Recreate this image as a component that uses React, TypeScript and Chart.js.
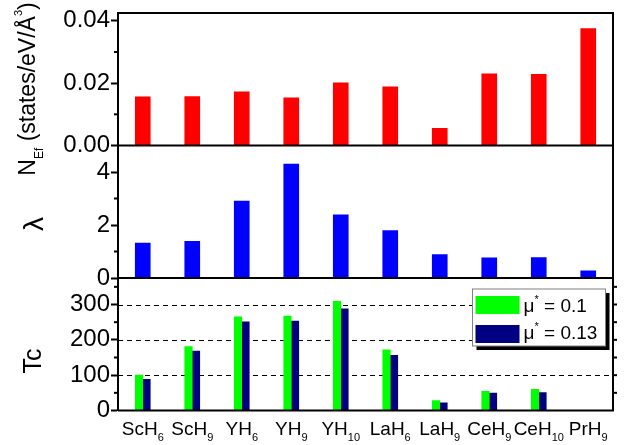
import React, { useEffect, useRef } from 'react';
import { Chart, registerables } from 'chart.js';

Chart.register(...registerables);

// Compounds along the x axis; trailing digits are drawn as a subscript
const compounds = ['ScH6', 'ScH9', 'YH6', 'YH9', 'YH10', 'LaH6', 'LaH9', 'CeH9', 'CeH10', 'PrH9'];

// Density of states at the Fermi level (states/eV/Å³)
const nEf = [0.0156, 0.0157, 0.0172, 0.0153, 0.0201, 0.0188, 0.0055, 0.023, 0.0228, 0.0375];

// Electron-phonon coupling constant
const lambda = [1.32, 1.38, 2.9, 4.3, 2.38, 1.79, 0.88, 0.76, 0.77, 0.27];

// Critical temperature for two Coulomb pseudopotentials
const tcMu010 = [100, 181, 265, 267, 309, 172, 28, 54, 60, null];
const tcMu013 = [88, 168, 251, 253, 288, 156, 22, 49, 51, null];
const muStar = ['0.1', '0.13'];

// Axis ticks
const nEfTicks = [0, 0.02, 0.04];
const nEfMinor = [0.01, 0.03];
const lambdaTicks = [0, 2, 4];
const lambdaMinor = [1, 3];
const tcTicks = [0, 100, 200, 300];
const tcMinor = [50, 150, 250, 350];
const tcGuides = [100, 200, 300];
const tcRightTicks = [50, 100, 150, 200, 250, 300, 350];

const FONT = '"Liberation Sans", Arial, Helvetica, sans-serif';

type Part = { text: string; size: number; dy?: number };

function partsWidth(ctx: CanvasRenderingContext2D, parts: Part[]) {
  let w = 0;
  for (const p of parts) {
    ctx.font = `${p.size}px ${FONT}`;
    w += ctx.measureText(p.text).width;
  }
  return w;
}

function drawParts(ctx: CanvasRenderingContext2D, parts: Part[], x0: number, baseY: number) {
  let x = x0;
  for (const p of parts) {
    ctx.font = `${p.size}px ${FONT}`;
    ctx.fillText(p.text, x, baseY + (p.dy || 0));
    x += ctx.measureText(p.text).width;
  }
  return x;
}

function drawVertical(ctx: CanvasRenderingContext2D, parts: Part[], baseX: number, centerY: number) {
  ctx.save();
  ctx.translate(baseX, centerY);
  ctx.rotate(-Math.PI / 2);
  const w = partsWidth(ctx, parts);
  drawParts(ctx, parts, -w / 2, 0);
  ctx.restore();
}

function hLine(ctx: CanvasRenderingContext2D, x1: number, x2: number, y: number) {
  ctx.beginPath();
  ctx.moveTo(x1, y);
  ctx.lineTo(x2, y);
  ctx.stroke();
}

const panelDecorations = {
  id: 'panelDecorations',
  beforeDatasetsDraw(chart: any) {
    const { ctx, chartArea: a, scales } = chart;
    const yT = scales.yT;
    ctx.save();
    ctx.strokeStyle = '#000';
    ctx.lineWidth = 1;
    ctx.setLineDash([5, 4]);
    tcGuides.forEach((v) => {
      const py = Math.round(yT.getPixelForValue(v)) + 0.5;
      hLine(ctx, a.left, a.right, py);
    });
    ctx.restore();
  },
  afterDraw(chart: any) {
    const { ctx, chartArea: a, scales } = chart;
    const { x, yN, yL, yT } = scales;
    ctx.save();
    ctx.strokeStyle = '#000';
    ctx.fillStyle = '#000';
    ctx.lineWidth = 2;
    ctx.setLineDash([]);

    // Frame and panel separators
    ctx.beginPath();
    ctx.moveTo(a.left, a.top);
    ctx.lineTo(a.right, a.top);
    ctx.lineTo(a.right, a.bottom);
    ctx.lineTo(a.left, a.bottom);
    ctx.moveTo(a.left, yN.bottom);
    ctx.lineTo(a.right, yN.bottom);
    ctx.moveTo(a.left, yL.bottom);
    ctx.lineTo(a.right, yL.bottom);
    ctx.stroke();

    // Minor ticks on the left axes
    const minor = (scale: any, vals: number[]) =>
      vals.forEach((v) => hLine(ctx, a.left - 4, a.left, scale.getPixelForValue(v)));
    minor(yN, nEfMinor);
    minor(yL, lambdaMinor);
    minor(yT, tcMinor);

    // Ticks on the right side of the Tc panel
    tcRightTicks.forEach((v) => hLine(ctx, a.right, a.right + 4, yT.getPixelForValue(v)));

    // Category labels with subscripts
    ctx.textBaseline = 'alphabetic';
    ctx.textAlign = 'left';
    compounds.forEach((label, i) => {
      const m = label.match(/^(\D+)(\d*)$/) as RegExpMatchArray;
      const parts: Part[] = [
        { text: m[1], size: 19 },
        { text: m[2], size: 11, dy: 6 },
      ];
      const w = partsWidth(ctx, parts);
      drawParts(ctx, parts, x.getPixelForValue(i) - w / 2, 435);
    });

    // Axis titles
    drawVertical(
      ctx,
      [
        { text: 'N', size: 23 },
        { text: 'Ef', size: 12, dy: 8 },
        { text: ' (states/eV/Å', size: 23 },
        { text: '3', size: 11, dy: -13 },
        { text: ')', size: 23 },
      ],
      35,
      89
    );
    drawVertical(ctx, [{ text: 'λ', size: 28 }], 43, 224);
    drawVertical(ctx, [{ text: 'Tc', size: 25 }], 40.5, 361);

    // Legend with drop shadow
    const lx = a.right - 140.5;
    const ly = yT.top + 11;
    const lw = 133;
    const lh = 57;
    ctx.fillStyle = '#000';
    ctx.fillRect(lx + 4, ly + 4, lw, lh);
    ctx.fillStyle = '#fff';
    ctx.fillRect(lx, ly, lw, lh);
    ctx.strokeStyle = '#808080';
    ctx.lineWidth = 1;
    ctx.strokeRect(lx, ly, lw, lh);

    const swatches = [chart.data.datasets[2].backgroundColor, chart.data.datasets[3].backgroundColor];
    muStar.forEach((mu, i) => {
      const sy = ly + 7 + i * 29;
      ctx.fillStyle = swatches[i];
      ctx.fillRect(lx + 3, sy, 44, 18);
      ctx.fillStyle = '#000';
      drawParts(
        ctx,
        [
          { text: 'μ', size: 19 },
          { text: '*', size: 11, dy: -9 },
          { text: ' = ' + mu, size: 19 },
        ],
        lx + 51,
        ly + 23 + i * 27
      );
    });

    ctx.restore();
  },
};

function yAxis(
  weight: number,
  min: number,
  max: number,
  ticks: number[],
  fmt: (v: number) => string
) {
  return {
    type: 'linear',
    position: 'left',
    stack: 'panels',
    stackWeight: 1,
    weight,
    min,
    max,
    afterBuildTicks: (s: any) => {
      s.ticks = ticks.map((v) => ({ value: v }));
    },
    afterFit: (s: any) => {
      s.width = 118;
      s.paddingTop = 0;
      s.paddingBottom = 0;
    },
    border: { display: true, color: '#000', width: 2 },
    grid: {
      display: true,
      drawOnChartArea: false,
      drawTicks: true,
      tickLength: 7,
      tickWidth: 2,
      tickColor: '#000',
      color: '#000',
    },
    ticks: {
      color: '#000',
      padding: 1,
      autoSkip: false,
      font: { family: FONT, size: 24 },
      callback: (v: any) => fmt(Number(v)),
    },
  };
}

export default function App() {
  const canvasRef = useRef<HTMLCanvasElement | null>(null);

  useEffect(() => {
    const canvas = canvasRef.current;
    if (!canvas) return;
    const chart = new Chart(canvas, {
      type: 'bar',
      data: {
        labels: compounds,
        datasets: [
          {
            label: 'N(Ef)',
            data: nEf,
            yAxisID: 'yN',
            backgroundColor: '#ff0000',
            grouped: false,
            barThickness: 15,
          },
          {
            label: 'lambda',
            data: lambda,
            yAxisID: 'yL',
            backgroundColor: '#0000ff',
            grouped: false,
            barThickness: 15,
          },
          {
            label: 'Tc (mu* = 0.1)',
            data: tcMu010,
            yAxisID: 'yT',
            backgroundColor: '#00ff00',
            barThickness: 7.5,
          },
          {
            label: 'Tc (mu* = 0.13)',
            data: tcMu013,
            yAxisID: 'yT',
            backgroundColor: '#000080',
            barThickness: 7.5,
          },
        ],
      } as any,
      options: {
        animation: false,
        responsive: false,
        maintainAspectRatio: false,
        layout: { padding: { top: 13, right: 30, left: 0, bottom: 0 } },
        plugins: {
          legend: { display: false },
          tooltip: { enabled: false },
        },
        scales: {
          x: {
            type: 'category',
            offset: true,
            grid: { display: false },
            border: { display: false },
            ticks: { display: false },
            afterFit: (s: any) => {
              s.height = 34.5;
              s.paddingLeft = 0;
              s.paddingRight = 0;
            },
          },
          yN: yAxis(3, 0, 0.0425, nEfTicks, (v) => v.toFixed(2)),
          yL: yAxis(2, 0, 5, lambdaTicks, (v) => String(v)),
          yT: yAxis(1, 0, 375, tcTicks, (v) => String(v)),
        } as any,
      },
      plugins: [panelDecorations],
    });
    return () => chart.destroy();
  }, []);

  return (
    <div style={{ position: 'fixed', left: 0, top: 0, width: 643, height: 445, background: '#fff' }}>
      <canvas ref={canvasRef} width={643} height={445} style={{ display: 'block', width: 643, height: 445 }} />
    </div>
  );
}
